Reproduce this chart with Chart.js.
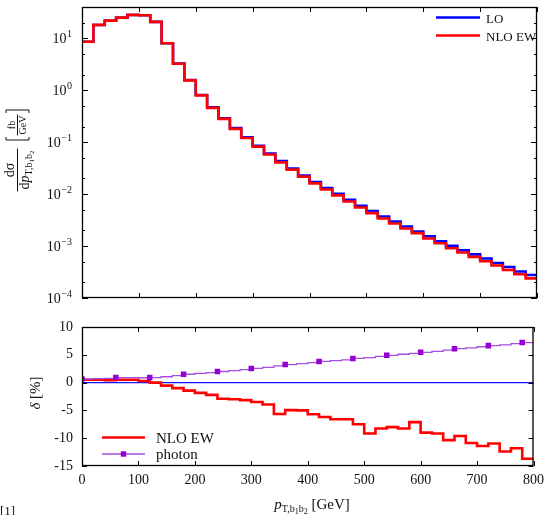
<!DOCTYPE html>
<html>
<head>
<meta charset="utf-8">
<script src="https://cdn.jsdelivr.net/npm/chart.js@4.4.1/dist/chart.umd.min.js"></script>
<style>
html, body { margin: 0; padding: 0; background: #fff; overflow: hidden; }
#c1 { position: absolute; left: 0; top: 0; }
#c2 { position: absolute; left: 0; top: 305px; }
#note { position: absolute; left: 0px; top: 503px; font: 13px "Liberation Serif", serif; color: #111; }
</style>
</head>
<body>
<canvas id="c1" width="550" height="305"></canvas>
<canvas id="c2" width="550" height="210"></canvas>
<div id="note">[1]</div>
<script>
// bin edges in GeV (20 GeV bins)
var binEdges = [0,20,40,60,80,100,120,140,160,180,200,220,240,260,280,300,320,340,360,380,
                400,420,440,460,480,500,520,540,560,580,600,620,640,660,680,700,720,740,760,780,800];

// dsigma/dpT [fb/GeV]
var loXsec = [8.56,18.0,21.8,24.9,28.1,27.7,20.7,8.04,3.27,1.57,
              0.809,0.467,0.289,0.186,0.124,0.0852,0.0601,0.0434,0.0311,0.0228,
              0.0171,0.0131,0.0101,0.00774,0.00598,0.00473,0.00371,0.00296,0.00238,0.00191,
              0.00154,0.00124,0.00101,0.000829,0.000693,0.000575,0.000473,0.000396,0.000324,0.000277];
var nloXsec = [8.6,18.1,21.9,25.0,28.2,27.8,20.7,8.0,3.24,1.55,
               0.794,0.457,0.281,0.180,0.1205,0.0822,0.0577,0.0409,0.0296,0.0217,
               0.0161,0.0123,0.00944,0.00723,0.00553,0.00430,0.00340,0.00272,0.00218,0.00177,
               0.00140,0.00113,0.000907,0.000749,0.000618,0.000509,0.000421,0.000347,0.000286,0.000239];

// relative corrections delta [%]
var deltaLO = [0, 0];
var deltaLOx = [0, 800];
var deltaNlo = [0.5,0.5,0.45,0.5,0.5,0.3,0.0,-0.55,-1.0,-1.45,
                -1.85,-2.2,-2.9,-3.0,-3.15,-3.5,-3.95,-5.65,-4.95,-5.0,
                -5.7,-6.2,-6.6,-6.6,-7.5,-9.15,-8.25,-8.0,-8.25,-7.1,
                -9.0,-9.15,-10.35,-9.6,-10.85,-11.4,-10.95,-12.4,-11.8,-13.7];
var deltaPhoton = [0.65,0.7,0.75,0.9,0.88,0.87,0.9,1.05,1.25,1.5,
                   1.65,1.8,2.0,2.15,2.35,2.55,2.75,3.0,3.25,3.4,
                   3.6,3.8,3.95,4.1,4.35,4.5,4.7,4.9,5.1,5.25,
                   5.45,5.6,5.85,6.1,6.25,6.45,6.65,6.8,7.0,7.2];
var photonMarkerBins = [0,3,6,9,12,15,18,21,24,27,30,33,36,39];

// ticks
var xTicks = [0,100,200,300,400,500,600,700,800];
var logMajor = [1e-4,1e-3,1e-2,1e-1,1,10];
var logExp = ['−4','−3','−2','−1','0','1'];
var logMinor = [2e-4,5e-4,2e-3,5e-3,0.02,0.05,0.2,0.5,2,5,20];
var deltaTicks = [-15,-10,-5,0,5,10];

var SERIF = '"Liberation Serif", "DejaVu Serif", serif';
var INK = '#111';

function steps(vals) {
  return binEdges.map(function (e, i) {
    return { x: e, y: vals[Math.min(i, vals.length - 1)] };
  });
}

function rich(ctx, parts, x, y, measureOnly) {
  var w = 0;
  parts.forEach(function (p) {
    ctx.font = p.f;
    if (!measureOnly) ctx.fillText(p.t, x + w, y + (p.dy || 0));
    w += ctx.measureText(p.t).width;
  });
  return w;
}

var frame = {
  id: 'frame',
  afterDraw: function (chart, args, o) {
    var ctx = chart.ctx, a = chart.chartArea;
    var sx = chart.scales.x, sy = chart.scales.y;
    ctx.save();
    ctx.strokeStyle = '#000';
    ctx.lineWidth = 1;
    ctx.beginPath();
    o.xTicks.forEach(function (v) {
      var px = Math.round(sx.getPixelForValue(v)) + 0.5;
      ctx.moveTo(px, a.bottom); ctx.lineTo(px, a.bottom - 5);
      ctx.moveTo(px, a.top); ctx.lineTo(px, a.top + 5);
    });
    o.yTicks.forEach(function (t) {
      var py = Math.round(sy.getPixelForValue(t[0])) + 0.5;
      ctx.moveTo(a.left, py); ctx.lineTo(a.left + t[1], py);
      ctx.moveTo(a.right, py); ctx.lineTo(a.right - t[1], py);
    });
    ctx.stroke();
    ctx.lineWidth = 1.3;
    ctx.strokeRect(a.left + 0.5, a.top + 0.5, a.right - a.left - 1, a.bottom - a.top - 1);

    ctx.fillStyle = INK;
    ctx.textBaseline = 'alphabetic';
    // log tick labels with superscripts
    if (o.logLabels) {
      o.logLabels.forEach(function (l) {
        var py = sy.getPixelForValue(l[0]);
        ctx.font = '10px ' + SERIF;
        var we = ctx.measureText(l[1]).width;
        ctx.textAlign = 'left';
        ctx.fillText(l[1], 72 - we, py - 1);
        ctx.font = '14px ' + SERIF;
        ctx.textAlign = 'right';
        ctx.fillText('10', 72 - we - 0.5, py + 5);
      });
      ctx.textAlign = 'left';
    }
    // legend
    (o.legend || []).forEach(function (it) {
      ctx.strokeStyle = it.color;
      ctx.lineWidth = it.lw;
      ctx.beginPath();
      ctx.moveTo(it.x1, it.y); ctx.lineTo(it.x2, it.y);
      ctx.stroke();
      if (it.marker) {
        ctx.fillStyle = it.marker;
        ctx.fillRect((it.x1 + it.x2) / 2 - 2.7, it.y - 2.7, 5.4, 5.4);
      }
      ctx.fillStyle = INK;
      ctx.font = it.size + 'px ' + SERIF;
      ctx.textAlign = 'left';
      ctx.fillText(it.text, it.tx, it.y + 5);
    });
    if (o.titles) o.titles(ctx);
    ctx.restore();
  }
};

function topTitle(ctx) {
  ctx.save();
  ctx.translate(17, 170);
  ctx.rotate(-Math.PI / 2);
  ctx.fillStyle = INK;
  ctx.strokeStyle = INK;
  ctx.textAlign = 'left';
  var num = [{ t: 'd', f: '14px ' + SERIF }, { t: 'σ', f: '14px ' + SERIF }];
  var den = [{ t: 'd', f: '14px ' + SERIF }, { t: 'p', f: 'italic 14px ' + SERIF },
             { t: 'T,b', f: '10px ' + SERIF, dy: 3 }, { t: '1', f: '7px ' + SERIF, dy: 5 },
             { t: 'b', f: '10px ' + SERIF, dy: 3 }, { t: '2', f: '7px ' + SERIF, dy: 5 }];
  var wn = rich(ctx, num, 0, 0, true), wd = rich(ctx, den, 0, 0, true);
  var half = Math.max(wn, wd) / 2 + 2;
  rich(ctx, num, -wn / 2, -3);
  rich(ctx, den, -wd / 2, 12);
  ctx.lineWidth = 1;
  ctx.beginPath();
  ctx.moveTo(-half, 0.5); ctx.lineTo(half, 0.5);
  ctx.stroke();
  // [fb / GeV]
  var c = 45;
  var fb = [{ t: 'fb', f: '10px ' + SERIF }], gev = [{ t: 'GeV', f: '10px ' + SERIF }];
  var w1 = rich(ctx, fb, 0, 0, true), w2 = rich(ctx, gev, 0, 0, true);
  rich(ctx, fb, c - w1 / 2, -2);
  rich(ctx, gev, c - w2 / 2, 9);
  ctx.beginPath();
  ctx.moveTo(c - w2 / 2 - 1, 0.5); ctx.lineTo(c + w2 / 2 + 1, 0.5);
  var bl = c - 15, br = c + 15;
  ctx.moveTo(bl + 3, -11); ctx.lineTo(bl, -11); ctx.lineTo(bl, 12); ctx.lineTo(bl + 3, 12);
  ctx.moveTo(br - 3, -11); ctx.lineTo(br, -11); ctx.lineTo(br, 12); ctx.lineTo(br - 3, 12);
  ctx.stroke();
  ctx.restore();
}

function bottomTitles(ctx) {
  ctx.save();
  ctx.fillStyle = INK;
  ctx.textAlign = 'left';
  var xt = [{ t: 'p', f: 'italic 15px ' + SERIF }, { t: 'T,b', f: '10px ' + SERIF, dy: 3 },
            { t: '1', f: '8px ' + SERIF, dy: 5 }, { t: 'b', f: '10px ' + SERIF, dy: 3 },
            { t: '2', f: '8px ' + SERIF, dy: 5 }, { t: ' [GeV]', f: '15px ' + SERIF }];
  var w = rich(ctx, xt, 0, 0, true);
  rich(ctx, xt, 312 - w / 2, 204);
  ctx.translate(40, 88);
  ctx.rotate(-Math.PI / 2);
  var yt = [{ t: 'δ', f: 'italic 15px ' + SERIF }, { t: ' [%]', f: '15px ' + SERIF }];
  var wy = rich(ctx, yt, 0, 0, true);
  rich(ctx, yt, -wy / 2, 0);
  ctx.restore();
}

var topYTicks = logMajor.map(function (v) { return [v, 6]; })
  .concat(logMinor.map(function (v) { return [v, 3]; }));

new Chart(document.getElementById('c1'), {
  type: 'line',
  data: {
    datasets: [
      { label: 'LO', data: steps(loXsec), borderColor: '#0000ff', borderWidth: 2.6,
        stepped: true, pointRadius: 0, order: 1 },
      { label: 'NLO EW', data: steps(nloXsec), borderColor: '#ff0000', borderWidth: 2.6,
        stepped: true, pointRadius: 0, order: 0 }
    ]
  },
  options: {
    responsive: false,
    animation: false,
    layout: { padding: { left: 82, right: 13, top: 7, bottom: 7 } },
    scales: {
      x: { type: 'linear', min: 0, max: 800, display: false },
      y: { type: 'logarithmic', min: 1e-4, max: 40, display: false }
    },
    plugins: {
      legend: { display: false },
      tooltip: { enabled: false },
      frame: {
        xTicks: xTicks,
        yTicks: topYTicks,
        logLabels: logMajor.map(function (v, i) { return [v, logExp[i]]; }),
        legend: [
          { text: 'LO', color: '#0000ff', lw: 2.6, x1: 436, x2: 480, y: 17.5, tx: 486, size: 13 },
          { text: 'NLO EW', color: '#ff0000', lw: 2.6, x1: 436, x2: 480, y: 35.5, tx: 486, size: 13 }
        ],
        titles: topTitle
      }
    }
  },
  plugins: [frame]
});

new Chart(document.getElementById('c2'), {
  type: 'line',
  data: {
    datasets: [
      { label: 'LO', data: deltaLOx.map(function (x, i) { return { x: x, y: deltaLO[i] }; }),
        borderColor: '#1010ff', borderWidth: 1.2, pointRadius: 0, order: 2 },
      { label: 'NLO EW', data: steps(deltaNlo), borderColor: '#ff0000', borderWidth: 2.6,
        stepped: true, pointRadius: 0, order: 1 },
      { label: 'photon', data: steps(deltaPhoton), borderColor: '#a64ee0', borderWidth: 1.3,
        stepped: true, order: 0, pointStyle: 'rect',
        pointRadius: binEdges.map(function (e, i) { return photonMarkerBins.indexOf(i) >= 0 ? 3.9 : 0; }),
        pointBackgroundColor: '#9400d3', pointBorderWidth: 0 }
    ]
  },
  options: {
    responsive: false,
    animation: false,
    layout: { padding: { left: 0, right: 13, top: 22, bottom: 0 } },
    scales: {
      x: {
        type: 'linear', min: 0, max: 800,
        grid: { display: false, drawTicks: false },
        border: { display: false },
        afterBuildTicks: function (s) { s.ticks = xTicks.map(function (v) { return { value: v }; }); },
        afterFit: function (s) { s.height = 49; },
        ticks: { padding: 6, maxRotation: 0, autoSkip: false, color: INK,
                 font: { family: SERIF, size: 14 } }
      },
      y: {
        min: -15, max: 10,
        grid: { display: false, drawTicks: false },
        border: { display: false },
        afterBuildTicks: function (s) { s.ticks = deltaTicks.map(function (v) { return { value: v }; }); },
        afterFit: function (s) { s.width = 82; },
        ticks: { padding: 9, color: INK, font: { family: SERIF, size: 14 } }
      }
    },
    plugins: {
      legend: { display: false },
      tooltip: { enabled: false },
      frame: {
        xTicks: xTicks,
        yTicks: deltaTicks.map(function (v) { return [v, 5]; }),
        legend: [
          { text: 'NLO EW', color: '#ff0000', lw: 2.6, x1: 102, x2: 145, y: 132.5, tx: 156, size: 15 },
          { text: 'photon', color: '#a64ee0', lw: 1.3, x1: 102, x2: 145, y: 149, tx: 156, size: 15, marker: '#9400d3' }
        ],
        titles: bottomTitles
      }
    }
  },
  plugins: [frame]
});
</script>
</body>
</html>
